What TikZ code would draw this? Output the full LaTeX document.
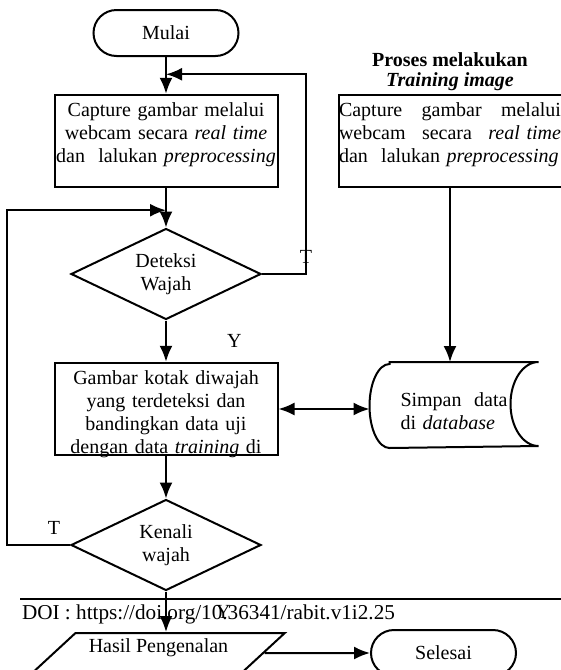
\documentclass[tikz,border=0pt]{standalone}
\usepackage{fontspec}
\setmainfont{Liberation Serif}
\usetikzlibrary{shapes,arrows.meta,calc,positioning}
\tikzstyle{line} = [draw, -{Latex[length=8pt,width=6.5pt]}]
\tikzstyle{twoway} = [draw, {Latex[length=8pt,width=6.5pt]}-{Latex[length=8pt,width=6.5pt]}]
\tikzstyle{block} = [draw, rectangle, text width=111pt, inner xsep=0.25pt, inner ysep=3.7pt, text depth=31.9pt]
\tikzstyle{decision} = [draw, diamond, aspect=2, minimum width=95pt, minimum height=45.5pt, inner sep=0pt, align=center]
\tikzstyle{cloud} = [draw, rectangle, rounded corners=11.5pt, minimum width=72.5pt, minimum height=23pt]
\tikzstyle{io} = [draw, trapezium, trapezium left angle=42, trapezium right angle=138, trapezium stretches=true, minimum width=126.5pt, minimum height=20pt, inner ysep=2pt, text depth=7pt]
\tikzstyle{store} = [rectangle, minimum width=83.5pt, minimum height=42pt, text width=53.5pt, align=left, text depth=5pt]
\tikzstyle{lbl} = [inner sep=1pt]

\begin{document}
\begin{tikzpicture}[x=0.5pt, y=-0.5pt, line width=1pt, font=\fontsize{10}{11.5}\selectfont]
        \useasboundingbox (0,0) rectangle (561,670);
        \clip (0,0) rectangle (561,670);
        \node[cloud] (mulai) at (166,33) {Mulai};
        \node[block, text centered, below of=mulai, node distance=54pt] (capture) {Capture gambar melalui\\webcam secara \textit{real time}\\dan\ \ lalukan \textit{preprocessing}};
        \node[decision, below of=capture, node distance=66.5pt] (deteksi) {Deteksi\\Wajah};
        \node[block, text centered, below of=deteksi, node distance=67.5pt] (gambar) {Gambar kotak diwajah\\yang terdeteksi dan\\bandingkan data uji\\dengan data \textit{training} di};
        \node[decision, below of=gambar, node distance=68pt] (kenali) {Kenali\\wajah};
        \node[io, below of=kenali, node distance=54pt, xshift=-3.75pt] (hasil) {Hasil Pengenalan};
        \node[cloud, right of=hasil, node distance=142.5pt] (selesai) {Selesai};
        \node[block, align=left, right of=capture, node distance=142pt] (training) {Capture\hfill gambar\hfill melalui\\webcam\hfill secara\hfill \textit{real time}\\dan\ \ lalukan \textit{preprocessing}};
        \node[above=1pt of training, inner sep=0pt, align=center, font=\fontsize{10}{10}\selectfont\bfseries] (judul) {Proses melakukan\\\textit{Training image}};
        \node[store, below of=training, node distance=132pt, xshift=2pt] (simpan) {Simpan\hfill data\\di \textit{database}};
        \draw ([xshift=10pt]simpan.north west) -- (simpan.north east)
            arc[start angle=90, end angle=270, x radius=14pt, y radius=21pt]
            -- ([xshift=10pt]simpan.south west)
            arc[start angle=270, end angle=90, x radius=10pt, y radius=21pt] -- cycle;
        \coordinate (join1) at ($(mulai.south)!0.47!(capture.north)$);
        \coordinate (join2) at ($(capture.south)!0.56!(deteksi.north)$);
        \path[line] (mulai) -- (capture);
        \path[line] (capture) -- (deteksi);
        \path[line] (deteksi) -- node[lbl, right=29pt] {Y} (gambar);
        \path[line] (gambar) -- (kenali);
        \path[line] (kenali) -- node[lbl, right=23.5pt] {Y} (kenali.south |- hasil.north);
        \path[line] (hasil) -- (selesai);
        \path[line] (deteksi.east) -- node[lbl, pos=1, above=3.7pt] {T} ++(22pt,0) |- (join1);
        \path[line] (kenali.west) -- node[lbl, pos=0, above left=4pt and 3.5pt] {T} ++(-31.5pt,0) |- (join2);
        \path[twoway] (gambar.east) -- (gambar.east -| simpan.west);
        \path[line] (training) -- (training |- simpan.north);
        \draw (20,599) -- (561,599);
        \node[anchor=base west, inner sep=0pt, font=\fontsize{10.6}{12}\selectfont] (doi) at (21,619) {DOI : https://doi.org/10.36341/rabit.v1i2.25};
\end{tikzpicture}
\end{document}
